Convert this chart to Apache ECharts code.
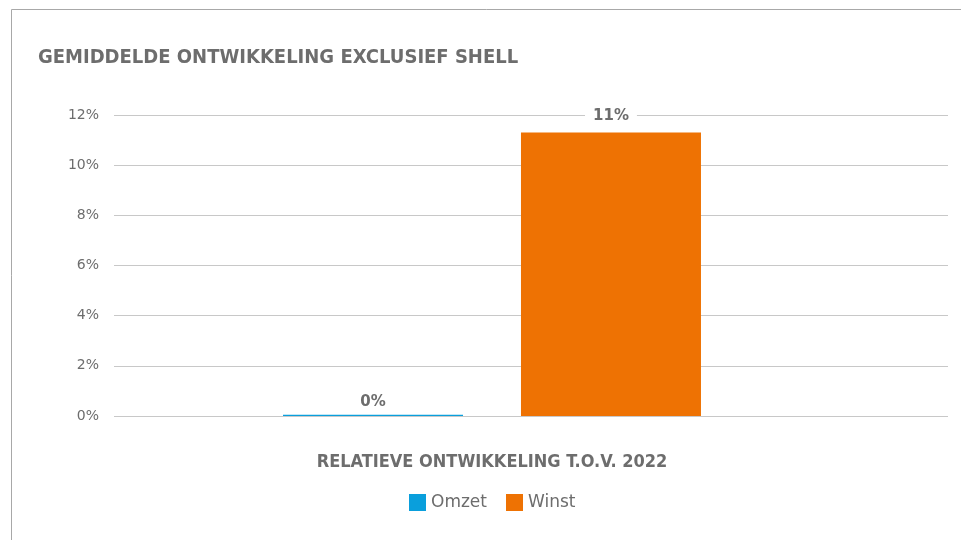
<!DOCTYPE html>
<html>
<head>
<meta charset="utf-8">
<style>
html,body{margin:0;padding:0;background:#fff;}
#c{width:961px;height:540px;}
</style>
<script src="https://cdn.jsdelivr.net/npm/echarts@6/dist/echarts.min.js"></script>
</head>
<body>
<div id="c"></div>
<script>
const titleText = 'GEMIDDELDE ONTWIKKELING EXCLUSIEF SHELL';
const categoryName = 'RELATIEVE ONTWIKKELING T.O.V. 2022';
const categories = [''];
const seriesNames = ['Omzet', 'Winst'];
const omzetValues = [0.05];
const winstValues = [11.3];
const yTicks = [0, 2, 4, 6, 8, 10, 12];

const gray = '#6d6d6d';
const chart = echarts.init(document.getElementById('c'), null, {renderer: 'canvas'});
function labelCfg(dist) {
  return {
    show: true, position: 'top', distance: dist,
    formatter: p => Math.round(p.value) + '%',
    color: gray, fontWeight: 'bold', fontSize: 15, fontFamily: 'DejaVu Sans',
    backgroundColor: '#fff', padding: [2, 8, 2, 8]
  };
}
chart.setOption({
  animation: false,
  backgroundColor: '#fff',
  graphic: [{
    type: 'rect', silent: true, z: -1,
    shape: {x: 11.5, y: 9.5, width: 1200, height: 800},
    style: {fill: 'none', stroke: '#a8a8a8', lineWidth: 1}
  }],
  title: {
    text: titleText, left: 33, top: 43,
    textStyle: {color: gray, fontSize: 20, fontWeight: 'bold', fontFamily: 'DejaVu Sans Condensed'}
  },
  legend: {
    data: seriesNames, left: 404, top: 489,
    itemWidth: 17, itemHeight: 17, itemGap: 19, icon: 'rect',
    textStyle: {color: gray, fontSize: 17, fontFamily: 'DejaVu Sans', padding: [0, 0, 0, 0]}
  },
  grid: [
    {left: 114, right: 13, top: 115, bottom: 124},
    {left: 114, right: 91, top: 115, bottom: 124}
  ],
  xAxis: [
    {gridIndex: 0, type: 'category', data: categories, show: false},
    {gridIndex: 1, type: 'category', data: categories,
     axisLine: {show: false}, axisTick: {show: false}, axisLabel: {show: false},
     name: categoryName, nameLocation: 'middle', nameGap: 37,
     nameTextStyle: {color: gray, fontSize: 18, fontWeight: 'bold', fontFamily: 'DejaVu Sans Condensed'}}
  ],
  yAxis: [
    {gridIndex: 0, type: 'value', min: yTicks[0], max: yTicks[yTicks.length - 1], interval: 2,
     axisLine: {show: false}, axisTick: {show: false},
     axisLabel: {formatter: '{value}%', color: gray, fontSize: 14, fontFamily: 'DejaVu Sans', margin: 15},
     splitLine: {lineStyle: {color: '#c8c8c8', width: 1}}},
    {gridIndex: 1, type: 'value', min: yTicks[0], max: yTicks[yTicks.length - 1], interval: 2, show: false,
     splitLine: {show: false}}
  ],
  series: [
    {name: seriesNames[0], type: 'bar', xAxisIndex: 1, yAxisIndex: 1, data: omzetValues,
     barWidth: 180, barGap: '32.2%', itemStyle: {color: '#0a9fdc'}, label: labelCfg(3)},
    {name: seriesNames[1], type: 'bar', xAxisIndex: 1, yAxisIndex: 1, data: winstValues,
     barWidth: 180, barGap: '32.2%', itemStyle: {color: '#ee7203'}, label: labelCfg(7)}
  ]
});
</script>
</body>
</html>
